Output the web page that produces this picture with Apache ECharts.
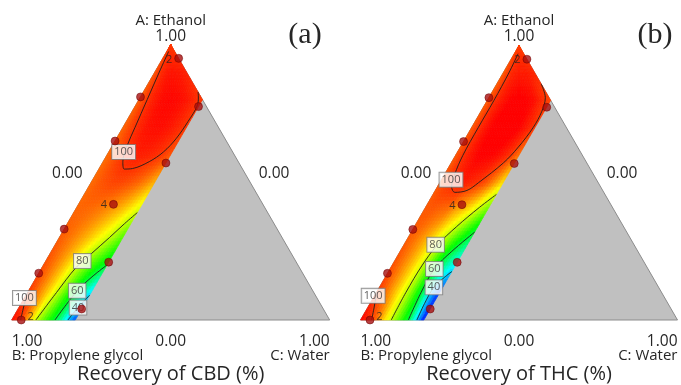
<!DOCTYPE html>
<html><head><meta charset="utf-8">
<script src="https://cdn.jsdelivr.net/npm/echarts@6/dist/echarts.min.js"></script>
<style>html,body{margin:0;padding:0;background:#fff}#c{width:681px;height:385px}</style>
</head><body><div id="c"></div>
<script>
// ---- grid of read values: rows A = ethanol fraction, columns s where C(water) = s*min(0.2,1-A)
const rowA = [0,0.1,0.2,0.3,0.4,0.5,0.6,0.7,0.8,0.9,1.0];
const colS = [0,0.125,0.25,0.375,0.5,0.625,0.75,0.875,1];
const cbdGrid = [
  [103,100.8,92,80.3,72,64,55,41,30],
  [100,96,91,85,77.5,69,61,51,41],
  [98,95.5,92,87.5,82,76,70,65,60],
  [97,95.5,93.5,91,88,84.5,81,76,70.5],
  [96,96,95.5,94.5,93,91,88.5,85,81],
  [95.5,97,98,98.7,98.5,97.5,96,93.5,90],
  [95.5,97.5,99.7,101.3,101.8,101.5,100.8,99.7,97.5],
  [96,98.8,101,102.5,103,103,102.3,101,99.6],
  [96.5,99.9,102,103.3,103.6,103.3,102.5,101,99.5],
  [97,99.6,101,102,102.5,102.5,102.3,102,101.5],
  [99.5,99.5,99.5,99.5,99.5,99.5,99.5,99.5,99.5]
];
const thcGrid = [
  [104,101,96,87,79,70,60.5,42.5,25],
  [100,96,91,85,78,68,56,38,28],
  [98,95,91,86,79,69,58,50,43.5],
  [97,95,92,88,83,77,70,63.5,57],
  [97,97,96,95,91,88,84,78,72],
  [97,99.5,101,102,101,99.8,97,92,86],
  [97,100.3,102.5,104,104,103.5,102,99.8,95],
  [97,100.5,103,104.5,105,105,104,102,99.5],
  [96.5,100.5,102.5,104,104.5,104,103,100.5,98.5],
  [96.5,99,100.8,101.5,102,102,102,101.5,101],
  [99,99,99,99,99,99,99,99,99]
];
const colorMin = 24, colorMax = 104;
const palette = ['#0000ff','#00ffff','#00ff00','#ffff00','#ff0000'];

// ---- contour lines [A, C]
const cbd100 = [[0.975,0.006],[0.9,0.014],[0.8,0.026],[0.7,0.038],[0.63,0.047],[0.575,0.062],[0.548,0.08],[0.55,0.105],[0.575,0.145],[0.61,0.172],[0.66,0.188],[0.72,0.194],[0.78,0.194],[0.81,0.182],[0.828,0.172]];
const cbd100Corner = [[0,0.028],[0.04,0.016],[0.08,0.005],[0.1,0]];
const cbd80 = [[0,0.076],[0.1,0.091],[0.19,0.107],[0.243,0.131],[0.3,0.158],[0.35,0.18],[0.39,0.2]];
const cbd60 = [[0,0.136],[0.106,0.153],[0.16,0.176],[0.2,0.2]];
const cbd40 = [[0,0.177],[0.045,0.186],[0.09,0.2]];
const thc100 = [[0.97,0.012],[0.9,0.018],[0.8,0.021],[0.7,0.021],[0.6,0.023],[0.53,0.032],[0.485,0.045],[0.465,0.065],[0.472,0.1],[0.5,0.122],[0.573,0.165],[0.63,0.183],[0.7,0.194],[0.76,0.192],[0.81,0.178],[0.84,0.157],[0.86,0.14]];
const thc100Corner = [[0,0.035],[0.04,0.022],[0.08,0.008],[0.1,0]];
const thc80 = [[0,0.097],[0.1,0.093],[0.2,0.095],[0.27,0.105],[0.34,0.133],[0.41,0.17],[0.457,0.2]];
const thc60 = [[0,0.151],[0.1,0.141],[0.186,0.14],[0.25,0.163],[0.32,0.2]];
const thc40 = [[0,0.178],[0.06,0.172],[0.12,0.172],[0.155,0.187],[0.177,0.2]];

// ---- contour labels
const cbdLabelText = ['100','100','80','60','40'];
const cbdLabelPos = [[0.61,0.047],[0.08,0.0],[0.214,0.115],[0.106,0.153],[0.045,0.186]];
const thcLabelText = ['100','100','80','60','40'];
const thcLabelPos = [[0.511,0.03],[0.088,-0.004],[0.274,0.1],[0.186,0.14],[0.119,0.172]];

// ---- design points
const designA = [0.95,0.81,0.775,0.65,0.57,0.42,0.33,0.21,0.17,0.04,0.0];
const designC = [0.05,0.0,0.2,0.0,0.2,0.11,0.0,0.2,0.0,0.2,0.03];
const designReps = [2,1,1,1,1,4,1,1,1,1,2];

const SQ = Math.sqrt(3)/2;
function tern(A, C){ return [C + A/2, A*SQ]; }
function clamp(x){ return Math.max(0, Math.min(1, x)); }

function stripSeries(g, gi){
  const data = [];
  for (let i=0;i<rowA.length-1;i++) for (let j=0;j<colS.length-1;j++) data.push([i,j]);
  return {
    type:'custom', xAxisIndex:gi, yAxisIndex:gi, z:2, silent:true, data,
    renderItem: function(params, api){
      const i = api.value(0), j = api.value(1);
      const nu = 8, nv = 3, children = [];
      for (let a=0;a<nu;a++) for (let b=0;b<nv;b++){
        const corners = [[a/nu,b/nv],[(a+1)/nu,b/nv],[(a+1)/nu,(b+1)/nv],[a/nu,(b+1)/nv]];
        const pts = corners.map(function(c){
          const A = rowA[i] + c[0]*(rowA[i+1]-rowA[i]);
          const s = colS[j] + c[1]*(colS[j+1]-colS[j]);
          return api.coord(tern(A, s*Math.min(0.2, 1-A)));
        });
        const u=(a+0.5)/nu, v=(b+0.5)/nv;
        const val = (1-u)*(1-v)*g[i][j] + u*(1-v)*g[i+1][j] + (1-u)*v*g[i][j+1] + u*v*g[i+1][j+1];
        const col = echarts.color.lerp(clamp((val-colorMin)/(colorMax-colorMin)), palette);
        children.push({type:'polygon', shape:{points:pts}, style:{fill:col, stroke:col, lineWidth:0.7}});
      }
      return {type:'group', children};
    }
  };
}
function triSeries(gi){
  return {type:'custom', xAxisIndex:gi, yAxisIndex:gi, z:1, silent:true, data:[[0,0]],
    renderItem: function(params, api){
      const pts = [tern(1,0), tern(0,0), tern(0,1)].map(p=>api.coord(p));
      return {type:'polygon', shape:{points:pts}, style:{fill:'#c0c0c0', stroke:'#8c8c8c', lineWidth:1}};
    }};
}
function lineSeries(arr, gi){
  return {type:'line', xAxisIndex:gi, yAxisIndex:gi, z:3, silent:true, symbol:'none', smooth:0.35,
    lineStyle:{color:'#1e1e1e', width:0.9}, data: arr.map(p=>tern(p[0],p[1]))};
}
function labelSeries(texts, pos, gi){
  return {type:'scatter', xAxisIndex:gi, yAxisIndex:gi, z:5, silent:true, symbolSize:1,
    itemStyle:{color:'rgba(0,0,0,0)'},
    data: texts.map((t,k)=>({value:tern(pos[k][0],pos[k][1]), name:t})),
    label:{show:true, position:'inside', formatter:p=>p.name, backgroundColor:'#fff', borderColor:'#808080',
      borderWidth:1, padding:[2,2,1,2], fontSize:11, color:'#333', fontFamily:'Open Sans'}};
}
function pointSeries(gi){
  return {type:'scatter', xAxisIndex:gi, yAxisIndex:gi, z:6, silent:true, symbolSize:8,
    itemStyle:{color:'#a80f0f', borderColor:'#6a0000', borderWidth:0.6},
    data: designA.map((A,k)=>{
      const item = {value: tern(A, designC[k])};
      if (designReps[k] > 1){
        const bottom = A < 0.05;
        item.label = {show:true, formatter:String(designReps[k]), position: bottom ? 'right' : 'left',
          distance: 2, offset: bottom ? [0,-3] : [0,1], fontSize:11, color:'#222', fontFamily:'Open Sans'};
      }
      return item;
    })};
}

const panels = [
  {bx:11.7, L:318, title:'Recovery of CBD (%)', tag:'(a)', tagX:305},
  {bx:360.5, L:317, title:'Recovery of THC (%)', tag:'(b)', tagX:655}
];
const graphic = [];
function txt(t, x, y, align, size, family){
  graphic.push({type:'text', silent:true, style:{text:t, x:x, y:y, textAlign:align, align:align,
    textVerticalAlign:'middle', verticalAlign:'middle', fill:'#262626',
    font: size + 'px ' + (family || '"Open Sans"')}});
}
panels.forEach(p=>{
  const ax = p.bx + p.L/2;
  txt('A: Ethanol', ax, 21, 'center', 15);
  txt('1.00', ax, 37, 'center', 15.5);
  txt('0.00', p.bx + p.L*0.175, 174, 'center', 15.5);
  txt('0.00', p.bx + p.L*0.825, 174, 'center', 15.5);
  txt('1.00', p.bx, 342, 'left', 15.5);
  txt('0.00', ax, 342, 'center', 15.5);
  txt('1.00', p.bx + p.L, 342, 'right', 15.5);
  txt('B: Propylene glycol', p.bx, 356, 'left', 15);
  txt('C: Water', p.bx + p.L, 356, 'right', 15);
  txt(p.title, ax, 374, 'center', 20);
  txt(p.tag, p.tagX, 35, 'center', 30, '"Liberation Serif", serif');
});

const chart = echarts.init(document.getElementById('c'), null, {renderer:'canvas'});
chart.setOption({
  animation:false,
  backgroundColor:'#fff',
  grid: panels.map(p=>({left:p.bx, width:p.L, top:320 - p.L*SQ, height:p.L*SQ})),
  xAxis: [0,1].map(g=>({gridIndex:g, type:'value', min:0, max:1, show:false})),
  yAxis: [0,1].map(g=>({gridIndex:g, type:'value', min:0, max:SQ, show:false})),
  graphic: graphic,
  series: [
    triSeries(0), stripSeries(cbdGrid,0),
    lineSeries(cbd100,0), lineSeries(cbd100Corner,0), lineSeries(cbd80,0), lineSeries(cbd60,0), lineSeries(cbd40,0),
    labelSeries(cbdLabelText, cbdLabelPos, 0), pointSeries(0),
    triSeries(1), stripSeries(thcGrid,1),
    lineSeries(thc100,1), lineSeries(thc100Corner,1), lineSeries(thc80,1), lineSeries(thc60,1), lineSeries(thc40,1),
    labelSeries(thcLabelText, thcLabelPos, 1), pointSeries(1)
  ]
});
</script></body></html>
